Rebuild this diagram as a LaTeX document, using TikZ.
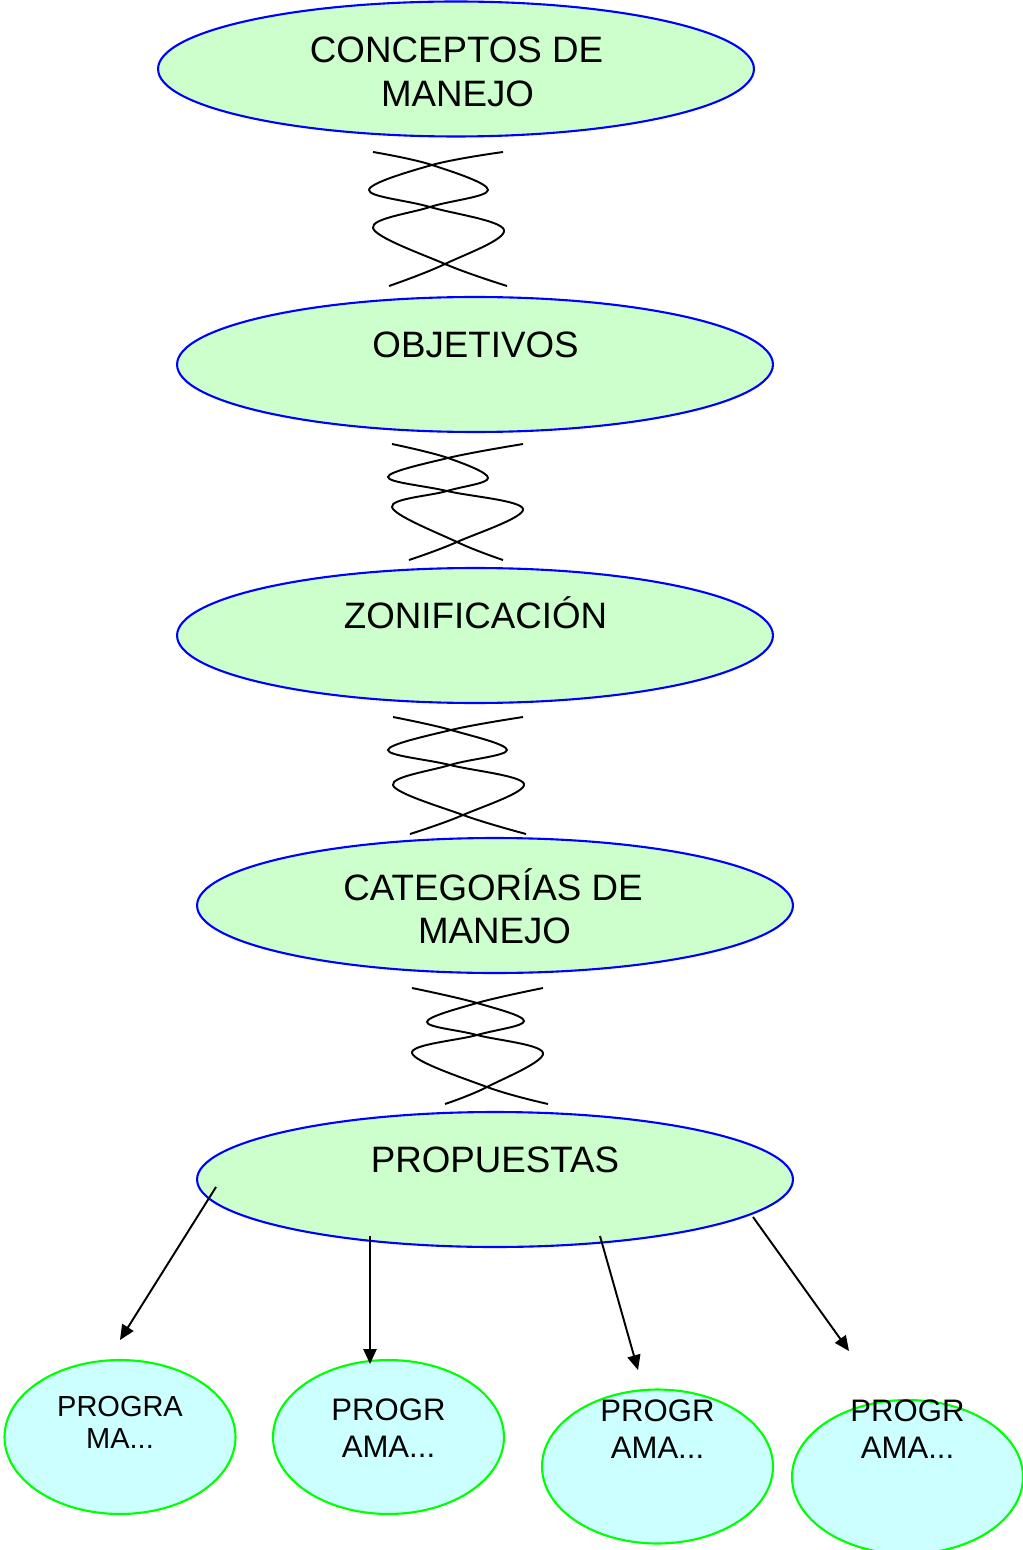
\documentclass[tikz,border=0pt]{standalone}
\usepackage{fontspec}
\setmainfont{Liberation Sans}
\usetikzlibrary{shapes.geometric,arrows.meta}
\definecolor{lgreen}{HTML}{CCFFCC}
\definecolor{lcyan}{HTML}{CCFFFF}
\definecolor{ovblue}{HTML}{0000FF}
\definecolor{ovgreen}{HTML}{00FF00}
\begin{document}
\begin{tikzpicture}[x=0.02cm,y=-0.02cm,
  bigov/.style={ellipse, draw=ovblue, fill=lgreen, line width=1.2pt,
    minimum width=11.92cm, minimum height=2.7cm, inner sep=0pt},
  smallov/.style={ellipse, draw=ovgreen, fill=lcyan, line width=1.2pt,
    minimum width=4.62cm, minimum height=3.08cm, inner sep=0pt},
  bigtxt/.style={anchor=base, inner sep=0pt, font=\fontsize{20.9}{24}\selectfont},
  smalltxt/.style={anchor=base, inner sep=0pt, font=\fontsize{17.7}{21}\selectfont},
  twist/.style={line width=1.1pt, smooth, tension=0.6},
  arr/.style={line width=1.1pt, -{Triangle[length=8.5pt,width=7.5pt]}}]
\useasboundingbox (0,0) rectangle (1023,1550);

% main ellipses
\node[bigov] (e1) at (456,69) {};
\node[bigov] (e2) at (475,364.5) {};
\node[bigov] (e3) at (475,635.5) {};
\node[bigov] (e4) at (495,905.5) {};
\node[bigov] (e5) at (495,1179.5) {};

\node[bigtxt] (t1a) at (456.5,63) {CONCEPTOS DE};
\node[bigtxt] (t1b) at (457.5,107) {MANEJO};
\node[bigtxt] (t2) at (475.5,357.5) {OBJETIVOS};
\node[bigtxt] (t3) at (475.5,628) {ZONIFICACIÓN};
\node[bigtxt] (t4a) at (493,900) {CATEGORÍAS DE};
\node[bigtxt] (t4b) at (494.5,943) {MANEJO};
\node[bigtxt] (t5) at (495,1172) {PROPUESTAS};

% twisted connectors
\draw[twist] plot coordinates {(373,152) (432,165) (488,190) (430,207) (373,228) (445,264) (507,286)};
\draw[twist] plot coordinates {(503,152) (432,165) (369,190) (430,207) (504,230) (445,264) (389,286)};

\draw[twist] plot coordinates {(392,444) (448,458) (488,478) (447,491) (392,507) (457,542) (503,560)};
\draw[twist] plot coordinates {(523,444) (448,458) (388,477) (447,491) (523,509) (457,542) (409,560)};

\draw[twist] plot coordinates {(393,717) (451,730) (507,750) (450,765) (393,785) (463,815) (526,834)};
\draw[twist] plot coordinates {(523,717) (451,730) (388,750) (450,765) (524,784) (463,815) (410,834)};

\draw[twist] plot coordinates {(412,988) (477,1003) (524,1021) (477,1035) (412,1053) (487,1087) (548,1104)};
\draw[twist] plot coordinates {(543,988) (477,1003) (427,1022) (477,1035) (543,1053) (487,1087) (445,1104)};

% bottom ellipses
\node[smallov] (b1) at (120,1437) {};
\node[smallov] (b2) at (388.5,1437) {};
\node[smallov] (b3) at (657.5,1466.5) {};
\node[smallov] (b4) at (907.5,1477) {};

\node[smalltxt, font=\fontsize{16.5}{20}\selectfont] (s1a) at (120,1416) {PROGRA};
\node[smalltxt, font=\fontsize{16.5}{20}\selectfont] (s1b) at (120,1448) {MA...};
\node[smalltxt] (s2a) at (388.5,1420) {PROGR};
\node[smalltxt] (s2b) at (388.5,1457) {AMA...};
\node[smalltxt] (s3a) at (657.5,1421) {PROGR};
\node[smalltxt] (s3b) at (657.5,1458) {AMA...};
\node[smalltxt] (s4a) at (907.5,1421) {PROGR};
\node[smalltxt] (s4b) at (907.5,1458) {AMA...};

% arrows
\coordinate (p1) at (216,1187);
\coordinate (q1) at (120,1340);
\coordinate (p2) at (370,1236);
\coordinate (q2) at (370,1364);
\coordinate (p3) at (600,1236);
\coordinate (q3) at (638,1370);
\coordinate (p4) at (753,1217);
\coordinate (q4) at (849,1351);
\draw[arr] (p1) -- (q1);
\draw[arr] (p2) -- (q2);
\draw[arr] (p3) -- (q3);
\draw[arr] (p4) -- (q4);
\end{tikzpicture}
\end{document}
